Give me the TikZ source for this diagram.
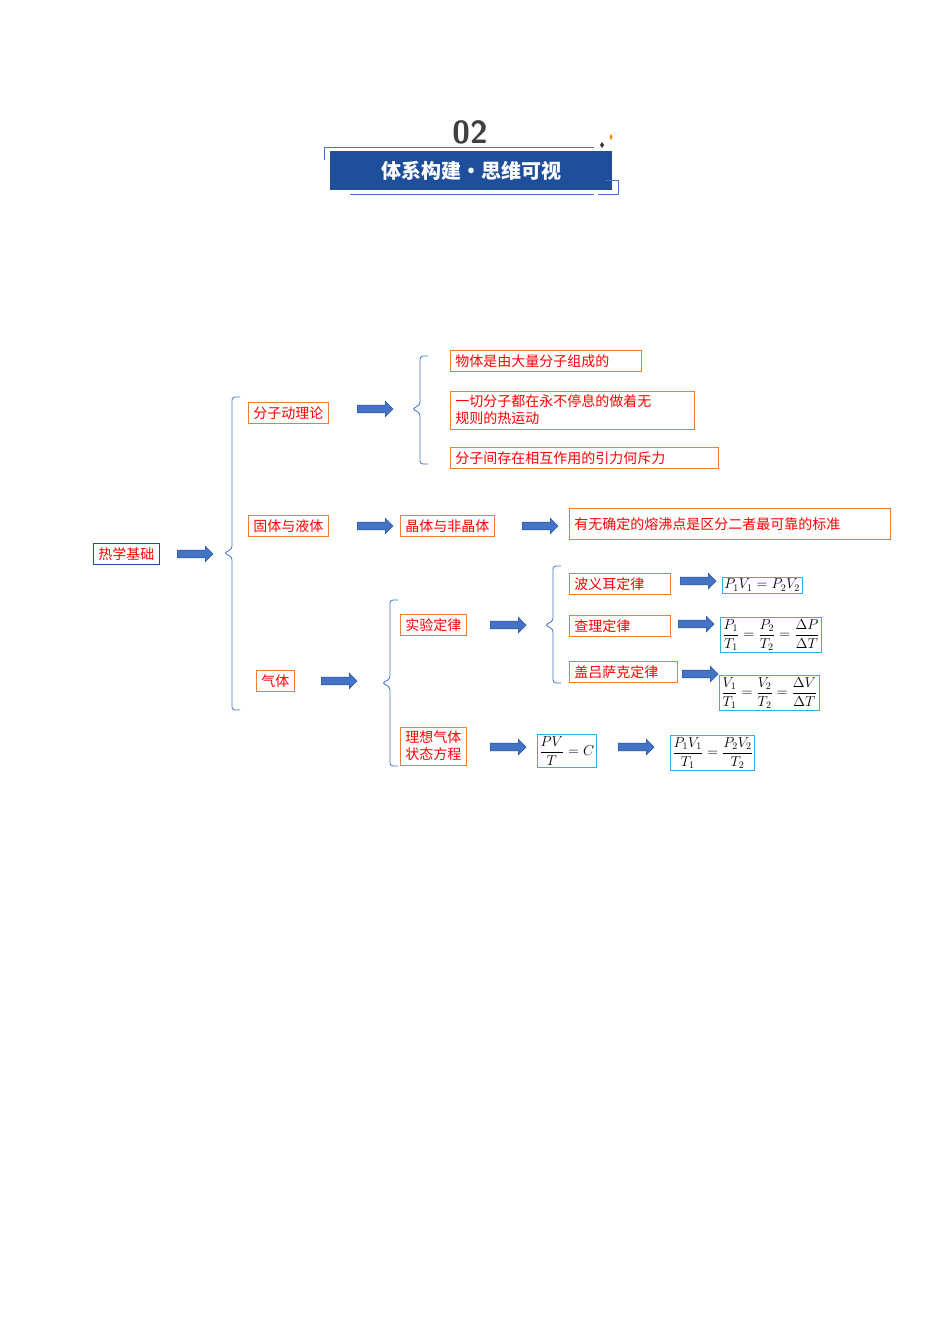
\documentclass[tikz,border=0pt]{standalone}
\usepackage{fontspec}
\usepackage{amsmath}
\newfontfamily\cjk{Noto Sans CJK SC}
\usetikzlibrary{shapes.arrows,positioning}
\definecolor{myorange}{HTML}{ED7D31}
\definecolor{myblue}{HTML}{4472C4}
\definecolor{mydark}{HTML}{1F4E9A}
\definecolor{mycyan}{HTML}{2BB3E0}
\tikzset{
  obox/.style={draw=myorange,thick,text=red,font=\cjk\fontsize{14}{17}\selectfont,
    inner xsep=5pt,inner ysep=4pt,align=left,anchor=west},
  fbox/.style={draw=mycyan,thick,inner sep=2pt,anchor=west,font=\fontsize{14}{15}\selectfont},
  fat/.style={single arrow,fill=myblue,draw=mydark,minimum width=16pt,
    single arrow head extend=4pt,minimum height=36pt,inner xsep=0pt,inner ysep=3.5pt,anchor=west},
  brace/.style={draw=myblue,thick,rounded corners=3pt}
}
\newcommand{\brc}[4]{% x, top, bottom, mid
  \draw[brace] (#1+8,#2) -- (#1,#2) -- (#1,#4-4) -- (#1-8,#4) -- (#1,#4+4) -- (#1,#3) -- (#1+8,#3);}
\begin{document}
\begin{tikzpicture}[x=1pt,y=-1pt]
\useasboundingbox (0,0) rectangle (950,1344);
% title
\node[font=\sffamily\bfseries\fontsize{32}{32}\selectfont,text=black!75] (num) at (470,132) {02};
\fill[mydark] (330,151) rectangle (612,190);
\node[font=\cjk\bfseries\fontsize{20}{20}\selectfont,text=white] (title) at (471,171) {体系构建・思维可视};
\draw[myblue,thin] (324,160) -- (324,147) -- (348,147);
\draw[myblue,thin] (348,147) -- (594,147) (350,194) -- (594,194);
\draw[myblue,thin] (606,180) -- (618,180) -- (618,194) -- (598,194);
\fill[black!80] (602,142) -- (604,145) -- (602,148) -- (600,145) -- cycle;
\fill[orange] (611,134) -- (612.5,137) -- (611,140) -- (609.5,137) -- cycle;
% root
\node[obox,draw=mydark,text=red] (root) at (93,554) {热学基础};
\node[fat] (a0) at (177,554) {};
\brc{232}{397}{710}{553}
% level 1
\node[obox] (fz) at (248,413) {分子动理论};
\node[obox] (gt) at (248,526) {固体与液体};
\node[obox] (qt) at (256,681) {气体};
\node[fat] (a1) at (357,409) {};
\brc{420}{356}{464}{409}
\node[obox,text width=181pt] (f1) at (450,361) {物体是由大量分子组成的};
\node[obox,text width=234pt] (f2) at (450,410) {一切分子都在永不停息的做着无\\规则的热运动};
\node[obox,text width=258pt] (f3) at (450,458) {分子间存在相互作用的引力何斥力};
\node[fat] (a2) at (357,526) {};
\node[obox] (jt) at (400,526) {晶体与非晶体};
\node[fat] (a3) at (522,526) {};
\node[obox,text width=311pt,minimum height=31pt] (bz) at (569,524) {有无确定的熔沸点是区分二者最可靠的标准};
% gas
\node[fat] (a4) at (321,681) {};
\brc{390}{600}{766}{683}
\node[obox] (sy) at (400,625) {实验定律};
\node[obox] (lx) at (400,746) {理想气体\\状态方程};
\node[fat] (a5) at (490,625) {};
\brc{553}{566}{683}{625}
\node[obox,text width=91pt] (by) at (569,584) {波义耳定律};
\node[obox,text width=91pt] (cl) at (569,626) {查理定律};
\node[obox,text width=98pt] (gl) at (569,672) {盖吕萨克定律};
\node[fat] (a6) at (680,581) {};
\node[fat] (a7) at (678,624) {};
\node[fat] (a8) at (682,674) {};
\node[fbox] (e1) at (722,585) {$P_1V_1=P_2V_2$};
\node[fbox] (e2) at (720,635) {$\dfrac{P_1}{T_1}=\dfrac{P_2}{T_2}=\dfrac{\Delta P}{\Delta T}$};
\node[fbox] (e3) at (719,693) {$\dfrac{V_1}{T_1}=\dfrac{V_2}{T_2}=\dfrac{\Delta V}{\Delta T}$};
\node[fat] (a9) at (490,747) {};
\node[fbox] (e4) at (537,751) {$\dfrac{PV}{T}=C$};
\node[fat] (a10) at (618,747) {};
\node[fbox] (e5) at (670,753) {$\dfrac{P_1V_1}{T_1}=\dfrac{P_2V_2}{T_2}$};
\end{tikzpicture}
\end{document}
